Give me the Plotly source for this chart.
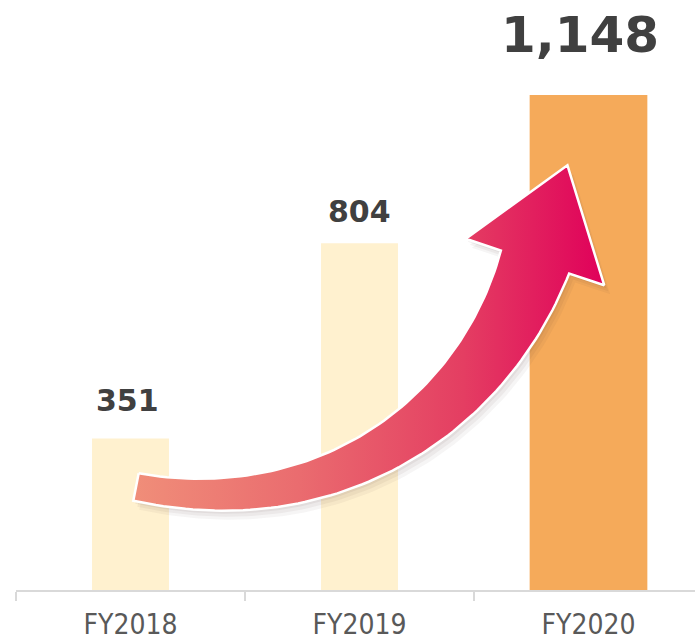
import numpy as np
import plotly.graph_objects as go

# ---- data ----
categories = ["FY2018", "FY2019", "FY2020"]
values = [351, 804, 1148]
value_labels = ["351", "804", "1,148"]

# ---- style ----
bar_colors = ["#FFF1CF", "#FFF1CF", "#F5AA5A"]
bar_widths = [0.336, 0.336, 0.514]
label_sizes = [30, 30, 50]
label_yshift = [38, 32, 60]
label_xshift = [-3, 0, -9]

W, H = 695, 642
ML, MR, MT, MB = 16, 0, 0, 52
PLOT_W = W - ML - MR
PLOT_H = H - MT - MB
CAT_PX = 229.0
X_RANGE = [-0.5, -0.5 + PLOT_W / CAT_PX]
Y_RANGE = [0, 1368]


def px_to_data(px, py):
    x = (px - ML) / CAT_PX - 0.5
    y = (MT + PLOT_H - py) / PLOT_H * (Y_RANGE[1] - Y_RANGE[0])
    return x, y


# ---- decorative curved arrow (pixel geometry) ----
P0 = np.array([136.0, 487.0])
P1 = np.array([330.0, 525.0])
P2 = np.array([484.0, 414.0])
P3 = np.array([535.0, 262.0])


def bez(t):
    t = t[:, None]
    return ((1 - t) ** 3) * P0 + 3 * ((1 - t) ** 2) * t * P1 + 3 * (1 - t) * t ** 2 * P2 + t ** 3 * P3


def dbez(t):
    t = t[:, None]
    return 3 * ((1 - t) ** 2) * (P1 - P0) + 6 * (1 - t) * t * (P2 - P1) + 3 * t ** 2 * (P3 - P2)


ts = np.linspace(0, 1, 80)
C = bez(ts)
D = dbez(ts)
D = D / np.linalg.norm(D, axis=1)[:, None]
N = np.stack([D[:, 1], -D[:, 0]], axis=1)  # "top" side normal
wid = 28 + 44 * ts ** 1.2
top = C + (wid / 2)[:, None] * N
bot = C - (wid / 2)[:, None] * N
Tend = D[-1]
Nend = N[-1]
left_barb = P3 + 73 * Nend
tip = P3 + 102 * Tend
right_barb = P3 - 73 * Nend
poly = np.vstack([top, left_barb, tip, right_barb, bot[::-1], top[:1]])

fig = go.Figure()

fig.add_trace(go.Bar(
    x=categories, y=values, width=bar_widths,
    marker=dict(color=bar_colors, line=dict(width=0)),
    hoverinfo="skip",
))

# soft shadow
for (dx, dy, a) in [(2, 3, 0.07), (4, 6, 0.06), (6, 9, 0.05)]:
    sx, sy = px_to_data(poly[:, 0] + dx, poly[:, 1] + dy)
    fig.add_trace(go.Scatter(
        x=sx, y=sy, xaxis="x2", mode="lines", fill="toself",
        fillcolor=f"rgba(80,50,50,{a})", line=dict(width=0),
        hoverinfo="skip",
    ))

ax, ay = px_to_data(poly[:, 0], poly[:, 1])
fig.add_trace(go.Scatter(
    x=ax, y=ay, xaxis="x2", mode="lines", fill="toself",
    fillgradient=dict(type="horizontal",
                      colorscale=[[0, "#F08E79"], [0.35, "#EA6C6F"],
                                  [0.7, "#E43E62"], [1, "#E0005A"]]),
    line=dict(color="white", width=2.5),
    hoverinfo="skip",
))

for i, (c, v, t) in enumerate(zip(categories, values, value_labels)):
    fig.add_annotation(
        x=c, y=v, text=f"<b>{t}</b>", showarrow=False,
        yanchor="middle", yshift=label_yshift[i], xshift=label_xshift[i],
        font=dict(family="DejaVu Sans", size=label_sizes[i], color="#404040"),
    )

fig.update_layout(
    width=W, height=H,
    margin=dict(l=ML, r=MR, t=MT, b=MB, autoexpand=False),
    paper_bgcolor="white", plot_bgcolor="white",
    showlegend=False,
    hovermode=False,
    xaxis=dict(
        type="category", range=X_RANGE, tickson="boundaries",
        ticks="outside", ticklen=9, tickwidth=1.5, tickcolor="#D9D9D9",
        showline=True, linecolor="#D9D9D9", linewidth=1.5,
        showgrid=False, zeroline=False, ticklabelstandoff=9,
        automargin=False,
        tickfont=dict(family="DejaVu Sans Condensed, DejaVu Sans", size=28, color="#595959"),
    ),
    xaxis2=dict(overlaying="x", range=X_RANGE, visible=False, showgrid=False),
    yaxis=dict(range=Y_RANGE, visible=False, showgrid=False, zeroline=False,
               automargin=False),
)

fig.write_html(
    "out.html",
    config={"displayModeBar": False},
    post_script="document.body.style.margin='0';document.body.style.overflow='hidden';",
)
